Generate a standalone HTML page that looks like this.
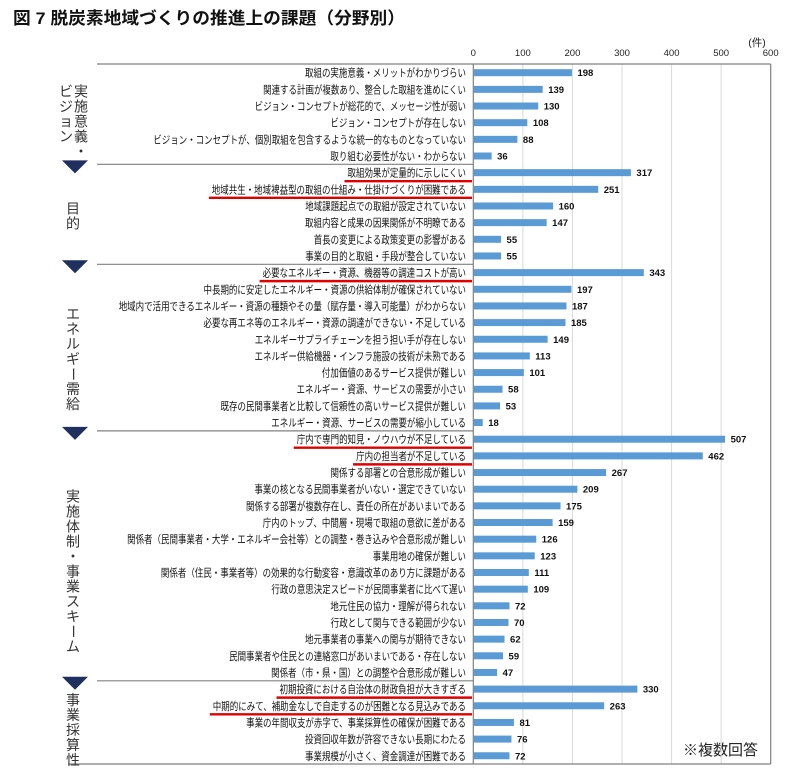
<!DOCTYPE html>
<html><head><meta charset="utf-8">
<style>
html,body{margin:0;padding:0;background:#fff;width:787px;height:774px;overflow:hidden}
svg{display:block;font-family:"Liberation Sans","Noto Sans CJK JP",sans-serif}
</style></head>
<body>
<svg id="chart" width="787" height="774" viewBox="0 0 787 774">
<text x="13" y="24" font-size="17" font-weight="bold" fill="#111" textLength="392" lengthAdjust="spacingAndGlyphs">図 7  脱炭素地域づくりの推進上の課題（分野別）</text>
<text x="757" y="46" font-size="10.5" fill="#222" text-anchor="middle">(件)</text>
<text x="683" y="755" font-size="15" fill="#222">※複数回答</text>
</svg>
<script>
const categories = [
"取組の実施意義・メリットがわかりづらい","関連する計画が複数あり、整合した取組を進めにくい","ビジョン・コンセプトが総花的で、メッセージ性が弱い","ビジョン・コンセプトが存在しない","ビジョン・コンセプトが、個別取組を包含するような統一的なものとなっていない","取り組む必要性がない・わからない",
"取組効果が定量的に示しにくい","地域共生・地域裨益型の取組の仕組み・仕掛けづくりが困難である","地域課題起点での取組が設定されていない","取組内容と成果の因果関係が不明瞭である","首長の変更による政策変更の影響がある","事業の目的と取組・手段が整合していない",
"必要なエネルギー・資源、機器等の調達コストが高い","中長期的に安定したエネルギー・資源の供給体制が確保されていない","地域内で活用できるエネルギー・資源の種類やその量（賦存量・導入可能量）がわからない","必要な再エネ等のエネルギー・資源の調達ができない・不足している","エネルギーサプライチェーンを担う担い手が存在しない","エネルギー供給機器・インフラ施設の技術が未熟である","付加価値のあるサービス提供が難しい","エネルギー・資源、サービスの需要が小さい","既存の民間事業者と比較して信頼性の高いサービス提供が難しい","エネルギー・資源、サービスの需要が縮小している",
"庁内で専門的知見・ノウハウが不足している","庁内の担当者が不足している","関係する部署との合意形成が難しい","事業の核となる民間事業者がいない・選定できていない","関係する部署が複数存在し、責任の所在があいまいである","庁内のトップ、中間層・現場で取組の意欲に差がある","関係者（民間事業者・大学・エネルギー会社等）との調整・巻き込みや合意形成が難しい","事業用地の確保が難しい","関係者（住民・事業者等）の効果的な行動変容・意識改革のあり方に課題がある","行政の意思決定スピードが民間事業者に比べて遅い","地元住民の協力・理解が得られない","行政として関与できる範囲が少ない","地元事業者の事業への関与が期待できない","民間事業者や住民との連絡窓口があいまいである・存在しない","関係者（市・県・国）との調整や合意形成が難しい",
"初期投資における自治体の財政負担が大きすぎる","中期的にみて、補助金なしで自走するのが困難となる見込みである","事業の年間収支が赤字で、事業採算性の確保が困難である","投資回収年数が許容できない長期にわたる","事業規模が小さく、資金調達が困難である"];
const values = [198,139,130,108,88,36, 317,251,160,147,55,55, 343,197,187,185,149,113,101,58,53,18, 507,462,267,209,175,159,126,123,111,109,72,70,62,59,47, 330,263,81,76,72];
const groupNames = ["実施意義・ビジョン","目的","エネルギー需給","実施体制・事業スキーム","事業採算性"];
const groupSizes = [6,6,10,15,5];
const highlighted = [6,7,12,22,23,37,38];
const ticks = [0,100,200,300,400,500,600];

const NS="http://www.w3.org/2000/svg";
const svg=document.getElementById('chart');
const X0=473.3, X1=770.7, XMAX=600;
const ROW0=72.7, PITCH=16.66;
const PTOP=64, PBOT=764;
const GROUP_SHIFT=[0,2,12,16,8];
function x(v){return X0+(X1-X0)*v/XMAX;}
function y(i){return ROW0+i*PITCH;}
function mk(tag,attrs){const e=document.createElementNS(NS,tag);for(const k in attrs)e.setAttribute(k,attrs[k]);svg.appendChild(e);return e;}

ticks.forEach(t=>{
  if(t>0&&t<XMAX){const g=mk('line',{x1:x(t),x2:x(t),y1:PTOP,y2:PBOT,stroke:'#d9d9d9','stroke-width':1});
  
  }
  const tl=mk('text',{x:x(t),y:56,'font-size':9.5,'text-anchor':'middle',fill:'#222'});
  tl.textContent=t;
  
  
});
let f;
f=mk('line',{x1:97,x2:X1,y1:PTOP,y2:PTOP,stroke:'#808080','stroke-width':1.2});

f=mk('line',{x1:68,x2:X1,y1:PBOT,y2:PBOT,stroke:'#808080','stroke-width':1.2});

f=mk('line',{x1:X0,x2:X0,y1:PTOP,y2:PBOT,stroke:'#808080','stroke-width':1.2});

f=mk('line',{x1:X1,x2:X1,y1:PTOP,y2:PBOT,stroke:'#808080','stroke-width':1.2});


let start=0;
groupSizes.forEach((n,gi)=>{
  const top=y(start)-PITCH/2, bot=y(start+n-1)+PITCH/2;
  if(gi>0){
    const s=mk('line',{x1:97,x2:X0,y1:top,y2:top,stroke:'#808080','stroke-width':1.2});
    
    
    const tri=mk('polygon',{points:`62,${top-4} 88,${top-4} 75,${top+9}`,fill:'#1f2f5e'});
    
    
  }
  const chars=[...groupNames[gi]];
  const cs=15;
  const cols = gi===0 ? [chars.slice(0,5),chars.slice(5)] : [chars];
  const mid=(top+bot)/2;
  cols.forEach((col,ci)=>{
    const cx = cols.length===2 ? (ci===0?81:66) : 73;
    const h=col.length*cs;
    const y0 = gi===0 ? top+20 : mid-h/2+GROUP_SHIFT[gi];
    col.forEach((ch,k)=>{
      const t=mk('text',{x:cx,y:y0+k*cs+12,'font-size':14,'text-anchor':'middle',fill:'#333'});
      if(ch==='ー'){t.setAttribute('transform',`rotate(90 ${cx} ${y0+k*cs+7})`);}
      t.textContent=ch;
      
      
    });
  });
  start+=n;
});

categories.forEach((c,i)=>{
  const cy=y(i);
  const lab=mk('text',{x:466,y:cy+4,'font-size':10.6,'text-anchor':'end',fill:'#111'});
  lab.textContent=c;
  
  
  const nat=lab.getComputedTextLength();
  const w=nat*0.8;
  lab.setAttribute('textLength',w.toFixed(1));
  lab.setAttribute('lengthAdjust','spacingAndGlyphs');
  if(highlighted.includes(i)){
    const u=mk('line',{x1:466-w-3,x2:472,y1:cy+8.5,y2:cy+8.5,stroke:'#e00000','stroke-width':2.4});
    
    
  }
  const b=mk('rect',{x:X0+0.5,y:cy-3.5,width:x(values[i])-X0,height:7,fill:'#5b9bd5'});
  
  
  const v=mk('text',{x:x(values[i])+6,y:cy+3.5,'font-size':9.5,fill:'#111','font-weight':'bold'});
  v.textContent=values[i];
  
  
});
</script>
</body></html>
